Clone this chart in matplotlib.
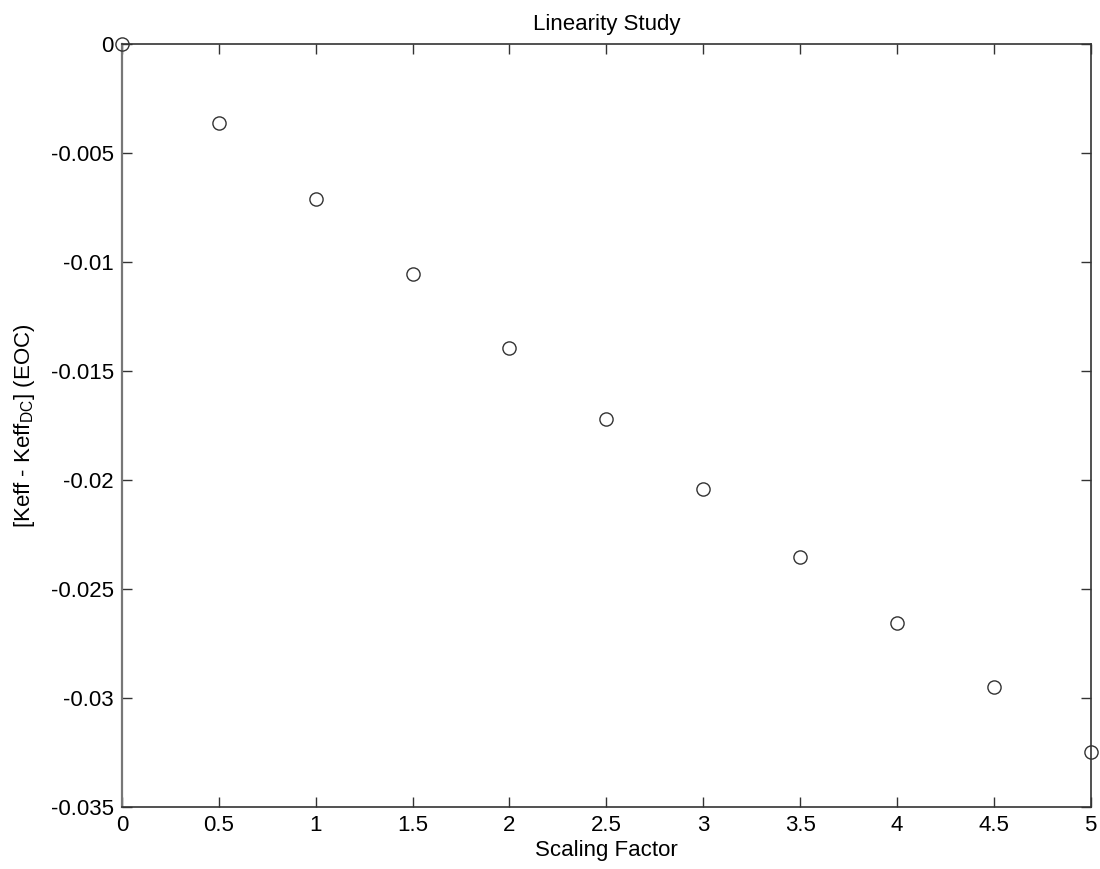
import matplotlib
matplotlib.use("Agg")
import matplotlib.pyplot as plt

# Scaling factor applied and resulting reactivity change at end of cycle
scaling_factor = [0.0, 0.5, 1.0, 1.5, 2.0, 2.5, 3.0, 3.5, 4.0, 4.5, 5.0]
delta_keff = [0.0, -0.00364, -0.00711, -0.01055, -0.01393, -0.01722,
              -0.02043, -0.02353, -0.02657, -0.02953, -0.03249]

x_ticks = [0, 0.5, 1, 1.5, 2, 2.5, 3, 3.5, 4, 4.5, 5]
x_tick_labels = ["0", "0.5", "1", "1.5", "2", "2.5", "3", "3.5", "4", "4.5", "5"]
y_ticks = [0, -0.005, -0.01, -0.015, -0.02, -0.025, -0.03, -0.035]
y_tick_labels = ["0", "-0.005", "-0.01", "-0.015", "-0.02", "-0.025", "-0.03", "-0.035"]

plt.rcParams["font.family"] = ["Liberation Sans", "DejaVu Sans"]
plt.rcParams["mathtext.default"] = "regular"

FS = 16

fig = plt.figure(figsize=(11, 8.69), dpi=100)
ax = fig.add_axes([0.1109, 0.0717, 0.8806, 0.8777])

ax.plot(scaling_factor, delta_keff, linestyle="none", marker="o",
        markersize=9.5, markerfacecolor="none", markeredgecolor="#333333",
        markeredgewidth=1.0, clip_on=False, zorder=5)

ax.set_xlim(0, 5)
ax.set_ylim(-0.035, 0)
ax.set_xticks(x_ticks)
ax.set_xticklabels(x_tick_labels)
ax.set_yticks(y_ticks)
ax.set_yticklabels(y_tick_labels)

ax.tick_params(axis="both", direction="in", length=7, width=1, color="#333333",
               labelsize=FS, top=True, right=True)
ax.tick_params(axis="x", pad=6)
ax.tick_params(axis="y", pad=6)
for side, spine in ax.spines.items():
    spine.set_linewidth(1.2)
    spine.set_color("#333333")
ax.spines["left"].set_color("#777777")
ax.spines["left"].set_linewidth(1.6)

ax.set_title("Linearity Study", fontsize=FS, pad=10)
ax.set_xlabel("Scaling Factor", fontsize=FS, labelpad=3)
ax.set_ylabel(r"[Keff - Keff$_{DC}$] (EOC)", fontsize=FS, labelpad=10)

fig.savefig("out.png", dpi=100, facecolor="white")
